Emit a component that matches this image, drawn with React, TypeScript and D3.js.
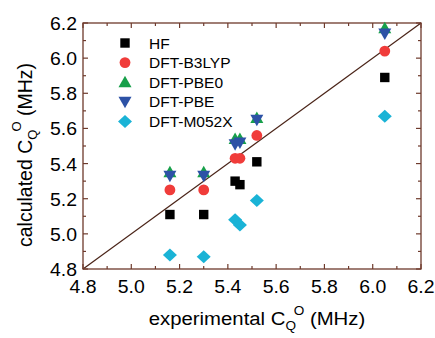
import React from "react";
import * as d3 from "d3";

const expX = [5.16, 5.30, 5.43, 5.45, 5.52, 6.05];
const hf = [5.11, 5.11, 5.30, 5.28, 5.41, 5.89];
const b3lyp = [5.25, 5.25, 5.43, 5.43, 5.56, 6.04];
const pbe0 = [5.35, 5.35, 5.54, 5.54, 5.66, 6.17];
const pbe = [5.33, 5.33, 5.51, 5.52, 5.65, 6.14];
const m052x = [4.88, 4.87, 5.08, 5.05, 5.19, 5.67];

const seriesNames = ["HF", "DFT-B3LYP", "DFT-PBE0", "DFT-PBE", "DFT-M052X"];
const seriesValues = [hf, b3lyp, pbe0, pbe, m052x];
const seriesColors = ["#000000", "#f03c3a", "#17a04a", "#2d52a6", "#1ab3d6"];
const seriesShapes = ["square", "circle", "up", "down", "diamond"];

const tickValues = [4.8, 5.0, 5.2, 5.4, 5.6, 5.8, 6.0, 6.2];
const tickLabels = ["4.8", "5.0", "5.2", "5.4", "5.6", "5.8", "6.0", "6.2"];
const minorValues = [4.9, 5.1, 5.3, 5.5, 5.7, 5.9, 6.1];

const W = 435, H = 338;
const L = 83, R = 421, T = 23, B = 269;
const axisColor = "#6e3a2c";
const FONT = "'Liberation Sans', Arial, Helvetica, sans-serif";

function marker(shape: string, cx: number, cy: number, color: string, key: string) {
  switch (shape) {
    case "square":
      return <rect key={key} x={cx - 4.7} y={cy - 4.7} width={9.4} height={9.4} fill={color} />;
    case "circle":
      return <circle key={key} cx={cx} cy={cy} r={5.4} fill={color} />;
    case "up":
      return <path key={key} d={`M${cx},${cy - 6.5}L${cx + 6.5},${cy + 5}L${cx - 6.5},${cy + 5}Z`} fill={color} />;
    case "down":
      return <path key={key} d={`M${cx},${cy + 6.5}L${cx + 6.5},${cy - 5}L${cx - 6.5},${cy - 5}Z`} fill={color} />;
    default:
      return <path key={key} d={`M${cx},${cy - 6.5}L${cx + 7},${cy}L${cx},${cy + 6.5}L${cx - 7},${cy}Z`} fill={color} />;
  }
}

export default function App() {
  const x = d3.scaleLinear().domain([4.8, 6.2]).range([L, R]);
  const y = d3.scaleLinear().domain([4.8, 6.2]).range([B, T]);
  const maj = 5, min = 3;

  return (
    <svg width={W} height={H} style={{ position: "absolute", left: 0, top: 0, background: "#fff" }} fontFamily={FONT}>
      {/* diagonal */}
      <line x1={x(4.8)} y1={y(4.8)} x2={x(6.2)} y2={y(6.2)} stroke="#4a2418" strokeWidth={1.2} />
      {/* frame */}
      <rect x={L} y={T} width={R - L} height={B - T} fill="none" stroke={axisColor} strokeWidth={1.3} />
      {/* ticks */}
      {tickValues.map((v, i) => (
        <g key={"t" + i}>
          <line x1={x(v)} x2={x(v)} y1={B} y2={B - maj} stroke={axisColor} strokeWidth={1.2} />
          <line x1={x(v)} x2={x(v)} y1={T} y2={T + maj} stroke={axisColor} strokeWidth={1.2} />
          <line y1={y(v)} y2={y(v)} x1={L} x2={L + maj} stroke={axisColor} strokeWidth={1.2} />
          <line y1={y(v)} y2={y(v)} x1={R} x2={R - maj} stroke={axisColor} strokeWidth={1.2} />
        </g>
      ))}
      {minorValues.map((v, i) => (
        <g key={"m" + i}>
          <line x1={x(v)} x2={x(v)} y1={B} y2={B - min} stroke={axisColor} strokeWidth={1.2} />
          <line x1={x(v)} x2={x(v)} y1={T} y2={T + min} stroke={axisColor} strokeWidth={1.2} />
          <line y1={y(v)} y2={y(v)} x1={L} x2={L + min} stroke={axisColor} strokeWidth={1.2} />
          <line y1={y(v)} y2={y(v)} x1={R} x2={R - min} stroke={axisColor} strokeWidth={1.2} />
        </g>
      ))}
      {/* tick labels */}
      {tickValues.map((v, i) => (
        <text key={"xl" + i} transform={`translate(${x(v)},292.5) scale(1.08,1)`} textAnchor="middle" fontSize={18} fill="#000">{tickLabels[i]}</text>
      ))}
      {tickValues.map((v, i) => (
        <text key={"yl" + i} transform={`translate(${L - 6},${y(v) + 7}) scale(1.08,1)`} textAnchor="end" fontSize={18} fill="#000">{tickLabels[i]}</text>
      ))}
      {/* axis titles */}
      <text transform="translate(257,325) scale(1.13,1)" textAnchor="middle" fontSize={18} fill="#000">
        experimental C<tspan dy={5} fontSize={12}>Q</tspan><tspan dx={-2} dy={-15} fontSize={12}>O</tspan><tspan dy={10}> (MHz)</tspan>
      </text>
      <text transform="translate(32,155) rotate(-90)" textAnchor="middle" fontSize={19.5} fill="#000">
        calculated C<tspan dy={5} fontSize={13}>Q</tspan><tspan dx={-2} dy={-16} fontSize={13}>O</tspan><tspan dy={11}> (MHz)</tspan>
      </text>
      {/* points */}
      {seriesValues.map((vals, s) =>
        vals.map((v, i) => marker(seriesShapes[s], x(expX[i]), y(v), seriesColors[s], `p${s}-${i}`))
      )}
      {/* legend */}
      {seriesNames.map((n, s) => (
        <g key={"lg" + s}>
          {marker(seriesShapes[s], 125, 43 + s * 19.6, seriesColors[s], "lm" + s)}
          <text x={149} y={43 + s * 19.6 + 5.5} fontSize={15.5} fill="#000">{n}</text>
        </g>
      ))}
    </svg>
  );
}
